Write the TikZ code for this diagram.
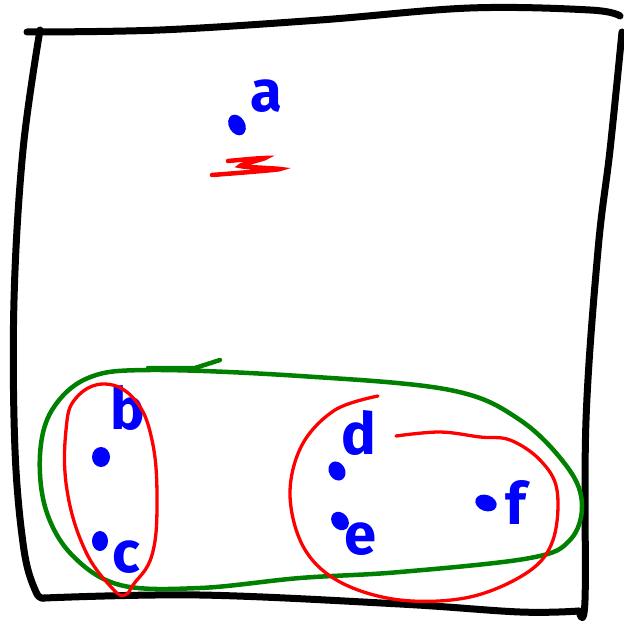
\documentclass[tikz,border=0pt]{standalone}
\usepackage{fontspec}
\setmainfont{Fira Sans}
\begin{document}
\begin{tikzpicture}[x=1pt,y=-1pt,
  frame/.style={line width=7pt,black,line cap=round,line join=round},
  grp/.style={line width=4.5pt,green!50!black,line cap=round},
  sub/.style={line width=3.3pt,red,line cap=round},
  pt/.style={fill=blue,draw=none},
  lbl/.style={text=blue,font=\fontsize{58}{58}\selectfont\bfseries,inner sep=0pt}]
\useasboundingbox (0,0) rectangle (623,628);
% frame
\draw[frame] plot[smooth,tension=0.6] coordinates{(27,32) (160,30) (320,20) (470,8) (590,10) (620,16)};
\draw[frame] plot[smooth,tension=0.6] coordinates{(40,30) (23,150) (14,300) (15,450) (24,550) (36,592) (44,598)};
\draw[frame] plot[smooth,tension=0.6] coordinates{(622,32) (610,150) (598,250) (586,420) (585,600) (579,611)};
\draw[frame] plot[smooth,tension=0.6] coordinates{(44,598) (200,595) (400,604) (520,612) (579,611)};
% a
\fill[pt,rotate around={30:(237,125)}] (237,125) ellipse (8pt and 11pt);
\node[lbl] (a) at (266,96) {a};
\draw[sub,line width=4.5pt] plot[smooth,tension=0.3] coordinates{(228,161) (265,158) (240,166) (280,169) (250,172) (212,175)};
% b c
\fill[pt] (101,457) ellipse (9pt and 10pt) coordinate (pb);
\node[lbl] (b) at (128,408) {b};
\fill[pt] (100,541) ellipse (8pt and 10pt) coordinate (pc);
\node[lbl] (c) at (126,557) {c};
% d e f
\fill[pt,rotate around={30:(337,471)}] (337,471) ellipse (8pt and 10pt);
\node[lbl] (d) at (359,433) {d};
\fill[pt,rotate around={40:(340,521)}] (340,521) ellipse (8pt and 10pt);
\node[lbl] (e) at (361,539) {e};
\fill[pt,rotate around={70:(486,503)}] (486,503) ellipse (8pt and 11pt);
\node[lbl] (f) at (516,502) {f};
% green group
\draw[grp] plot[smooth cycle,tension=0.6] coordinates{(150,370) (300,376) (450,390) (520,420) (568,468) (582,505) (570,540) (530,558) (400,572) (300,578) (200,588) (120,585) (72,555) (46,510) (40,455) (52,410) (88,378)};
\draw[grp] (148,368) -- (195,368) -- (220,360);
% red b-c
\draw[sub] plot[smooth cycle,tension=0.7] coordinates{(105,384) (135,400) (152,440) (157,500) (152,555) (133,585) (125,595) (112,588) (85,550) (67,490) (66,430) (76,398)};
% red d-e-f
\draw[sub] plot[smooth,tension=0.6] coordinates{(378,396) (335,410) (302,445) (290,495) (304,548) (340,582) (400,600) (470,597) (528,572) (553,540) (557,490) (540,460) (510,440) (480,437) (440,432) (396,436)};
\end{tikzpicture}
\end{document}
